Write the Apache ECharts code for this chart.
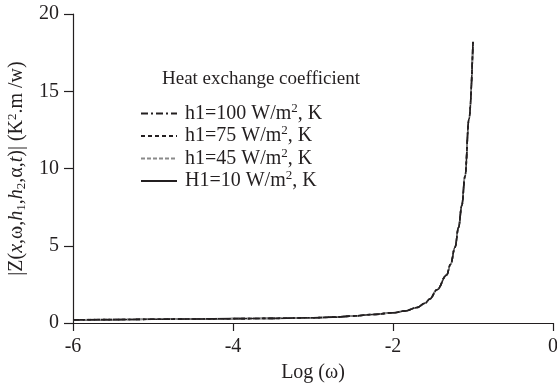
<!DOCTYPE html>
<html>
<head>
<meta charset="utf-8">
<script src="https://cdn.jsdelivr.net/npm/echarts@6/dist/echarts.min.js"></script>
<style>
  html, body { margin: 0; padding: 0; background: #fff; }
  #chart { width: 557px; height: 385px; }
</style>
</head>
<body>
<div id="chart"></div>
<script>
// log(omega) samples
var logW = [-6, -5.5, -5, -4.5, -4, -3.5, -3, -2.75, -2.5, -2.25, -2, -1.85, -1.7, -1.6, -1.54, -1.45, -1.33, -1.28, -1.225, -1.18, -1.14, -1.1, -1.05, -1.0]
// |Z| for each heat exchange coefficient (curves lie on top of each other)
var zH100 = [0.2, 0.22, 0.24, 0.26, 0.28, 0.3, 0.34, 0.38, 0.45, 0.55, 0.66, 0.78, 1.0, 1.28, 1.55, 2.15, 3.1, 3.8, 4.9, 6.2, 7.6, 9.5, 13.2, 18.2]
var zH75 = [0.21, 0.22, 0.24, 0.26, 0.28, 0.3, 0.34, 0.38, 0.45, 0.55, 0.66, 0.78, 1.0, 1.28, 1.55, 2.15, 3.1, 3.8, 4.9, 6.2, 7.6, 9.5, 13.2, 18.2]
var zH45 = [0.2, 0.23, 0.24, 0.26, 0.28, 0.3, 0.34, 0.38, 0.45, 0.55, 0.66, 0.78, 1.0, 1.28, 1.55, 2.15, 3.1, 3.8, 4.9, 6.2, 7.6, 9.5, 13.2, 18.2]
var zH10 = [0.19, 0.22, 0.24, 0.26, 0.28, 0.3, 0.34, 0.38, 0.45, 0.55, 0.66, 0.78, 1.0, 1.28, 1.55, 2.15, 3.1, 3.8, 4.9, 6.2, 7.6, 9.5, 13.2, 18.2]
var seriesNames = ['h1=100 W/m2, K', 'h1=75 W/m2, K', 'h1=45 W/m2, K', 'H1=10 W/m2, K']

var font = 'Liberation Serif'
var ink = '#231f20'

function pairs(ys) {
  return logW.map(function(x, i) { return [x, ys[i]] })
}

function makeSeries(name, ys, color, type) {
  return {
    name: name,
    type: 'line',
    data: pairs(ys),
    smooth: 0.4,
    smoothMonotone: 'x',
    symbol: 'none',
    lineStyle: { color: color, width: 1.6, type: type },
    itemStyle: { color: color },
    animation: false
  }
}

var chart = echarts.init(document.getElementById('chart'))
chart.setOption({
  backgroundColor: '#fff',
  textStyle: { fontFamily: font, color: ink },
  title: {
    text: 'Heat exchange coefficient',
    left: 157,
    top: 65,
    textStyle: { fontFamily: font, fontSize: 19, fontWeight: 'normal', color: ink }
  },
  legend: {
    orient: 'vertical',
    left: 135,
    top: 97,
    itemWidth: 36,
    itemHeight: 12,
    itemGap: 1,
    itemStyle: { opacity: 0 },
    data: seriesNames,
    formatter: function(name) {
      var parts = name.split('2, K')
      return '{g|}{t|' + parts[0] + '}{sup|2}{t|, K}'
    },
    textStyle: {
      fontFamily: font,
      color: ink,
      rich: {
        g: { width: 3 },
        t: { fontFamily: font, fontSize: 20, color: ink },
        sup: { fontFamily: font, fontSize: 13, color: ink, padding: [0, 0, 10, 0] }
      }
    }
  },
  grid: { left: 73, right: 4, top: 14, bottom: 62, outerBoundsMode: 'none' },
  xAxis: {
    type: 'value',
    min: -6,
    max: 0,
    interval: 2,
    name: 'Log (ω)',
    nameLocation: 'middle',
    nameGap: 40,
    nameTextStyle: { fontFamily: font, fontSize: 20, color: ink },
    axisLine: { show: true, onZero: false, lineStyle: { color: ink, width: 1.2 } },
    axisTick: { show: true, length: 8, lineStyle: { color: ink, width: 1.2 } },
    axisLabel: { fontFamily: font, fontSize: 20, color: ink, margin: 14 },
    splitLine: { show: false }
  },
  yAxis: {
    type: 'value',
    min: 0,
    max: 20,
    interval: 5,
    name: '{t||Z(}{i|x}{t|,ω,}{i|h}{sub|1}{t|,}{i|h}{sub|2}{t|,α,}{i|t}{t|)| (K}{sup|2}{t|.m /w)}',
    nameLocation: 'middle',
    nameGap: 36,
    nameTextStyle: {
      fontFamily: font,
      fontSize: 20,
      color: ink,
      rich: {
        t: { fontFamily: font, fontSize: 20, color: ink },
        i: { fontFamily: font, fontSize: 20, fontStyle: 'italic', color: ink },
        sub: { fontFamily: font, fontSize: 13, color: ink, padding: [9, 0, 0, 0] },
        sup: { fontFamily: font, fontSize: 13, color: ink, padding: [0, 0, 10, 0] }
      }
    },
    axisLine: { show: true, onZero: false, lineStyle: { color: ink, width: 1.2 } },
    axisTick: { show: true, length: 9, lineStyle: { color: ink, width: 1.2 } },
    axisLabel: { fontFamily: font, fontSize: 20, color: ink, margin: 14 },
    splitLine: { show: false }
  },
  series: [
    makeSeries(seriesNames[3], zH10, ink, 'solid'),
    makeSeries(seriesNames[2], zH45, '#8a8a8a', [4, 2]),
    makeSeries(seriesNames[1], zH75, ink, [4, 3]),
    makeSeries(seriesNames[0], zH100, ink, [7, 3, 2, 3])
  ]
})
</script>
</body>
</html>
